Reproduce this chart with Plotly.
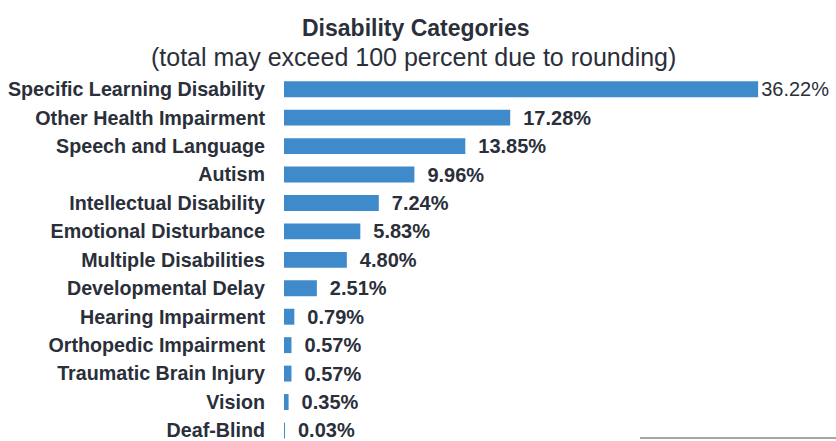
import plotly.graph_objects as go

categories = [
    "Specific Learning Disability",
    "Other Health Impairment",
    "Speech and Language",
    "Autism",
    "Intellectual Disability",
    "Emotional Disturbance",
    "Multiple Disabilities",
    "Developmental Delay",
    "Hearing Impairment",
    "Orthopedic Impairment",
    "Traumatic Brain Injury",
    "Vision",
    "Deaf-Blind",
]
percents = [36.22, 17.28, 13.85, 9.96, 7.24, 5.83, 4.80, 2.51, 0.79, 0.57, 0.57, 0.35, 0.03]
labels = [f"{v:.2f}%" for v in percents]

W, H = 836, 441
ML, MR, MT, MB = 284, 28, 75, 0
TEXT = "#2a2f3a"
FONT = "Liberation Sans"

# the longest bar carries a plain label set tight against its end;
# the rest use bold labels with a small leading gap
vmax = max(percents)
bar_text = [
    lab if v == vmax else "\u2002<b>" + lab + "</b>"
    for v, lab in zip(percents, labels)
]

fig = go.Figure(
    go.Bar(
        x=percents,
        y=categories,
        orientation="h",
        marker=dict(color="#3f8acb", line=dict(width=0)),
        text=bar_text,
        textposition="outside",
        constraintext="none",
        textfont=dict(family=FONT, size=20, color=TEXT),
        cliponaxis=False,
        width=0.56,
    )
)

fig.update_layout(
    width=W,
    height=H,
    margin=dict(l=ML, r=MR, t=MT, b=MB),
    paper_bgcolor="white",
    plot_bgcolor="white",
    showlegend=False,
    font=dict(family=FONT, color=TEXT),
    xaxis=dict(range=[0, 40.03], visible=False, fixedrange=True),
    yaxis=dict(
        range=[12.3, -0.5],
        showgrid=False,
        zeroline=False,
        showline=False,
        ticks="",
        ticklabelstandoff=18,
        tickfont=dict(family=FONT, size=19.7, color=TEXT, weight="bold"),
    ),
)

# helpers converting pixel positions to paper coordinates
pw = W - ML - MR
ph = H - MT - MB
def px_x(x):
    return (x - ML) / pw
def px_y(y):
    return (H - MB - y) / ph

fig.add_annotation(
    text="<b>Disability Categories</b>",
    x=px_x(416), y=px_y(28), xref="paper", yref="paper",
    showarrow=False, xanchor="center", yanchor="middle",
    font=dict(family=FONT, size=23, color=TEXT),
)
fig.add_annotation(
    text="(total may exceed 100 percent due to rounding)",
    x=px_x(413), y=px_y(57), xref="paper", yref="paper",
    showarrow=False, xanchor="center", yanchor="middle",
    font=dict(family=FONT, size=25, color=TEXT),
)

# thin rule along the lower right edge
fig.add_shape(
    type="line",
    xref="paper", yref="paper",
    x0=px_x(640), x1=px_x(836), y0=px_y(440), y1=px_y(440),
    line=dict(color="#8a8a8a", width=1.5),
)

fig.write_html("out.html")
